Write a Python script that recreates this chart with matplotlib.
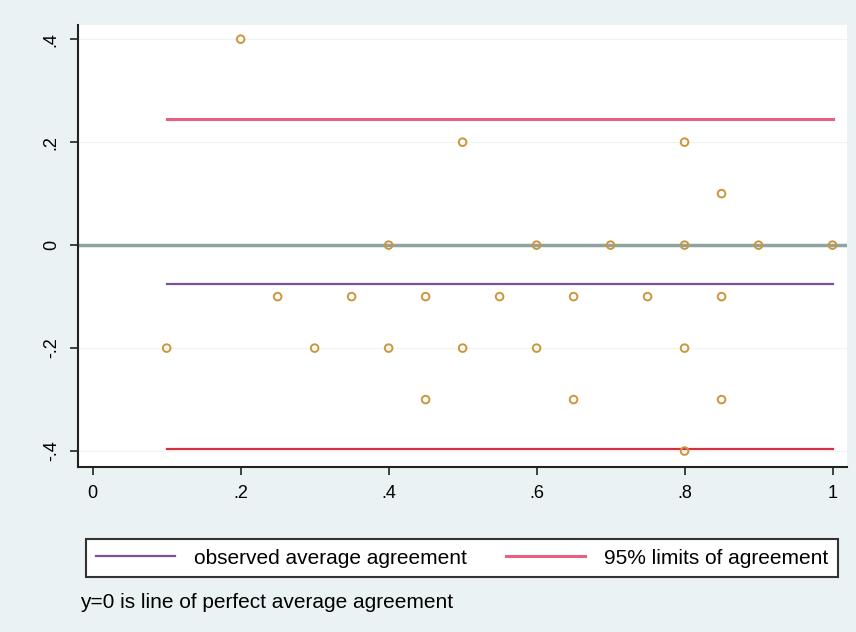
import matplotlib
matplotlib.use("Agg")
import matplotlib.pyplot as plt

plt.rcParams['font.family'] = ['Liberation Sans', 'DejaVu Sans']

# observations (mean of raters, difference)
x_vals = [0.2,
          0.5, 0.8,
          0.85,
          0.4, 0.6, 0.7, 0.8, 0.9, 1.0,
          0.25, 0.35, 0.45, 0.55, 0.65, 0.75, 0.85,
          0.1, 0.3, 0.4, 0.5, 0.6, 0.8,
          0.45, 0.65, 0.85,
          0.8]
y_vals = [0.4,
          0.2, 0.2,
          0.1,
          0, 0, 0, 0, 0, 0,
          -0.1, -0.1, -0.1, -0.1, -0.1, -0.1, -0.1,
          -0.2, -0.2, -0.2, -0.2, -0.2, -0.2,
          -0.3, -0.3, -0.3,
          -0.4]

mean_diff = -0.076
upper_loa = 0.245
lower_loa = -0.396
line_x = [0.1, 1.0]

xticks = [0, 0.2, 0.4, 0.6, 0.8, 1]
xtick_labels = ['0', '.2', '.4', '.6', '.8', '1']
yticks = [-0.4, -0.2, 0, 0.2, 0.4]
ytick_labels = ['-.4', '-.2', '0', '.2', '.4']

bg = '#eaf2f3'
fig = plt.figure(figsize=(8.56, 6.32), dpi=100, facecolor=bg)
ax = fig.add_axes([0.091, 0.261, 0.898, 0.699])
ax.set_facecolor('white')

for t in yticks:
    ax.axhline(t, color='#eef3f4', lw=0.8, zorder=0)
ax.axhline(0, color='#8fa3a0', lw=2.5, zorder=1)

ax.plot(line_x, [mean_diff, mean_diff], color='#7d4f9c', lw=1.6, zorder=2,
        label='observed average agreement')
ax.plot(line_x, [upper_loa, upper_loa], color='#e8607f', lw=2.2, zorder=2,
        label='95% limits of agreement')
ax.plot(line_x, [lower_loa, lower_loa], color='#d3303e', lw=1.6, zorder=2)

ax.scatter(x_vals, y_vals, s=30, facecolors='none', edgecolors='#cc963c',
           linewidths=1.4, zorder=3)

ax.set_xlim(-0.02, 1.019)
ax.set_ylim(-0.431, 0.427)
ax.set_xticks(xticks)
ax.set_xticklabels(xtick_labels, fontsize=13)
ax.set_yticks(yticks)
ax.set_yticklabels(ytick_labels, fontsize=13, rotation=90, va='center')
ax.tick_params(length=6, width=1.2, color='#222222', pad=7)

for s in ['top', 'right']:
    ax.spines[s].set_visible(False)
for s in ['left', 'bottom']:
    ax.spines[s].set_color('#222222')
    ax.spines[s].set_linewidth(1.5)

leg = fig.legend(loc='center', bbox_to_anchor=(0.5397, 0.117),
                 ncol=2, fontsize=15, frameon=True, fancybox=False, framealpha=1,
                 handlelength=3.8, handletextpad=0.9, borderpad=0.45,
                 columnspacing=1.9, borderaxespad=0)
leg.get_frame().set_edgecolor('#333333')
leg.get_frame().set_linewidth(1.5)
leg.get_frame().set_facecolor('white')

fig.text(0.094, 0.046, 'y=0 is line of perfect average agreement', fontsize=15,
         va='center')

fig.savefig('out.png', dpi=100, facecolor=bg)
